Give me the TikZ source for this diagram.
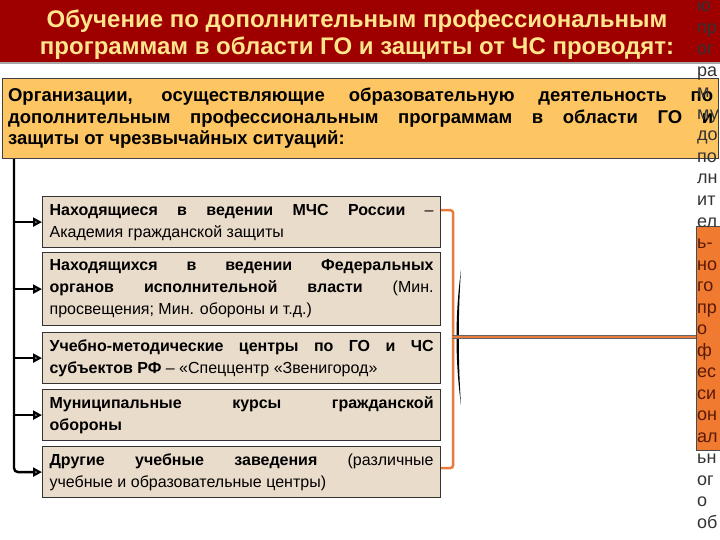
\documentclass[tikz,border=0pt]{standalone}
\usepackage{fontspec}
\setmainfont{Liberation Sans}
\usetikzlibrary{arrows.meta}
\definecolor{titlered}{HTML}{9E0000}
\definecolor{titletext}{HTML}{FFE68C}
\definecolor{headfill}{HTML}{FDC663}
\definecolor{itemfill}{HTML}{EADCCB}
\definecolor{bracketor}{HTML}{E97B3C}
\definecolor{sidefill}{HTML}{F07A30}
\definecolor{sidetext}{HTML}{5A1A08}

\begin{document}
\begin{tikzpicture}[x=1pt,y=-1pt,
    itembox/.style={draw=black!80,line width=1.2pt,fill=itemfill,anchor=north west,text width=384pt,inner xsep=7pt,inner ysep=0pt,align=justify,font=\fontsize{16}{22}\selectfont},
    branch/.style={line width=2.4pt,-{Triangle[open,length=9pt,width=9pt]}},
    bracket/.style={bracketor,line width=2.5pt,rounded corners=3pt},
    coltext/.style={anchor=base west,inner sep=0pt,text=black!80,font=\fontsize{18}{21.5}\selectfont}]
    \useasboundingbox (0,0) rectangle (720,540);
    \fill[titlered] (0,0) rectangle (720,62);
    \draw[black!35,line width=2pt] (0,63)--(720,63);
    \node[font=\bfseries\fontsize{24}{27}\selectfont,text=titletext,align=center] (title) at (357,35) {Обучение по дополнительным профессиональным\\программам в области ГО и защиты от ЧС проводят:};
    \node[draw=black!75,line width=1.2pt,fill=headfill,anchor=north west,minimum height=80pt,text width=705pt,inner xsep=5.5pt,align=justify,font=\bfseries\fontsize{18.5}{21.5}\selectfont] (org) at (2,78) {Организации, осуществляющие образовательную деятельность по\linebreak дополнительным профессиональным программам в области ГО и\linebreak защиты от чрезвычайных ситуаций:};
    \node[itembox,minimum height=51pt] (b1) at (42,196) {\textbf{Находящиеся в ведении МЧС России} –\linebreak Академия гражданской защиты};
    \node[itembox,minimum height=73pt] (b2) at (42,252) {\textbf{Находящихся в ведении Федеральных\linebreak органов исполнительной власти} (Мин.\linebreak просвещения; Мин. обороны и т.д.)};
    \node[itembox,minimum height=51pt] (b3) at (42,332) {\textbf{Учебно-методические центры по ГО и ЧС\linebreak субъектов РФ} – «Спеццентр «Звенигород»};
    \node[itembox,minimum height=51pt] (b4) at (42,389) {\textbf{Муниципальные курсы гражданской\linebreak обороны}};
    \node[itembox,minimum height=51pt] (b5) at (42,446) {\textbf{Другие учебные заведения} (различные\linebreak учебные и образовательные центры)};
    \coordinate (trunk) at ([xshift=12pt]org.south west);
    \foreach \b in {b1,b2,b3,b4}
        \draw[branch] (trunk |- \b.west)--(\b.west);
    \draw[branch,rounded corners=4pt] (trunk) |- (b5.west);
    \draw[bracket] ([yshift=12pt]b1.east) -- ++(12,0) |- ([yshift=4pt]b5.east);
    \coordinate (joint) at (452,337);
    \node[draw=black!70,fill=sidefill,minimum width=24pt,minimum height=224pt,inner sep=0pt] (side) at (708,338) {};
    \fill[black] (461,270) .. controls (455,315) and (455,360) .. (461,405) .. controls (458,360) and (458,315) .. (461,270);
    \draw[draw=black!60,line width=0.5pt,double=bracketor,double distance=2.4pt] (joint)--(joint -| side.west);
    \foreach \syl [count=\i] in {ю,пр,ог,ра,м,му,до,по,лн,ит,ел,ь-,но,го,пр,о,ф,ес,си,он,ал,ьн,ог,о,об}
        \node[coltext] (c\i) at (697,-9.5+21.5*\i) {\ifnum\i>11 \ifnum\i<22 \color{sidetext}\fi\fi\syl};
\end{tikzpicture}
\end{document}
